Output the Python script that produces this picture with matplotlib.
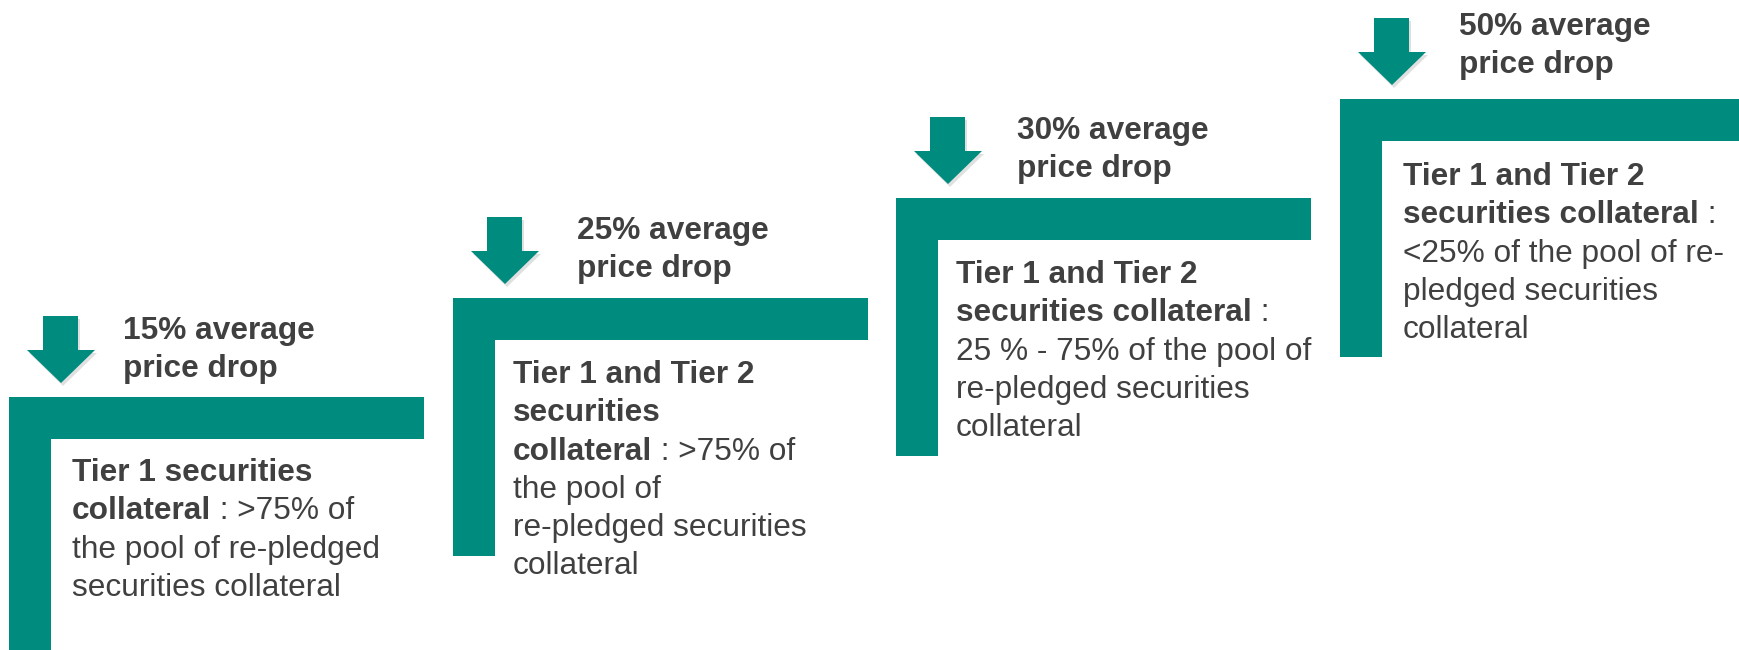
import matplotlib
matplotlib.use("Agg")
from matplotlib import pyplot
from matplotlib.patches import Polygon

pyplot.rcParams['font.family'] = ['Liberation Sans', 'DejaVu Sans']

TEAL = "#008B7F"
GREY = "#404040"
FONTSIZE = 22.8
LINE = 38.3

# price drop per step
drops = [15, 25, 30, 50]

# body text per step: lines made of (text, bold) pieces
bodies = [
    [[("Tier 1 securities", True)],
     [("collateral", True), (" : >75% of", False)],
     [("the pool of re-pledged", False)],
     [("securities collateral", False)]],
    [[("Tier 1 and Tier 2", True)],
     [("securities", True)],
     [("collateral", True), (" : >75% of", False)],
     [("the pool of", False)],
     [("re-pledged securities", False)],
     [("collateral", False)]],
    [[("Tier 1 and Tier 2", True)],
     [("securities collateral", True), (" :", False)],
     [("25 % - 75% of the pool of", False)],
     [("re-pledged securities", False)],
     [("collateral", False)]],
    [[("Tier 1 and Tier 2", True)],
     [("securities collateral", True), (" :", False)],
     [("<25% of the pool of re-", False)],
     [("pledged securities", False)],
     [("collateral", False)]],
]

# layout in pixels (left / top of each step)
lefts = [9, 453, 896, 1340]
tops = [397, 298, 198, 99]
rights = [424, 868, 1311, 1745]
title_dx = [114, 124, 121, 119]
title_dy = [-58, -59, -59, -64]
body_dx = [63, 60, 60, 63]
body_dy = [84, 85, 85, 86]
BAR = 42
VLEN = 258

fig = pyplot.figure(figsize=(17.4, 6.5), dpi=100)
ax = fig.add_axes([0, 0, 1, 1])
ax.set_xlim(0, 1740)
ax.set_ylim(650, 0)
ax.axis("off")
renderer = fig.canvas.get_renderer()

for i, drop in enumerate(drops):
    x0, y0, x1 = lefts[i], tops[i], rights[i]
    # L-shaped step
    ax.add_patch(Polygon([(x0, y0), (x1, y0), (x1, y0 + BAR), (x0 + BAR, y0 + BAR),
                          (x0 + BAR, y0 + VLEN), (x0, y0 + VLEN)],
                         closed=True, facecolor=TEAL, edgecolor="none"))
    # down arrow with a faint shadow
    arrow = [(x0 + 34, y0 - 81), (x0 + 69, y0 - 81), (x0 + 69, y0 - 47),
             (x0 + 86, y0 - 47), (x0 + 52, y0 - 14), (x0 + 18, y0 - 47),
             (x0 + 34, y0 - 47)]
    shadow = [(px + 2, py + 3) for px, py in arrow]
    ax.add_patch(Polygon(shadow, closed=True, facecolor="black", alpha=0.12,
                         edgecolor="none"))
    ax.add_patch(Polygon(arrow, closed=True, facecolor=TEAL, edgecolor="none"))

    # title
    tx, ty = x0 + title_dx[i], y0 + title_dy[i]
    for k, s in enumerate([f"{drop}% average", "price drop"]):
        ax.text(tx, ty + k * LINE, s, fontsize=FONTSIZE, fontweight="bold",
                color=GREY, va="baseline", ha="left")

    # body
    bx, by = x0 + body_dx[i], y0 + body_dy[i]
    for k, pieces in enumerate(bodies[i]):
        cx = bx
        for s, bold in pieces:
            t = ax.text(cx, by + k * LINE, s, fontsize=FONTSIZE,
                        fontweight="bold" if bold else "normal",
                        color=GREY, va="baseline", ha="left")
            cx += t.get_window_extent(renderer).width

fig.savefig("out.png", dpi=100, facecolor="white")
